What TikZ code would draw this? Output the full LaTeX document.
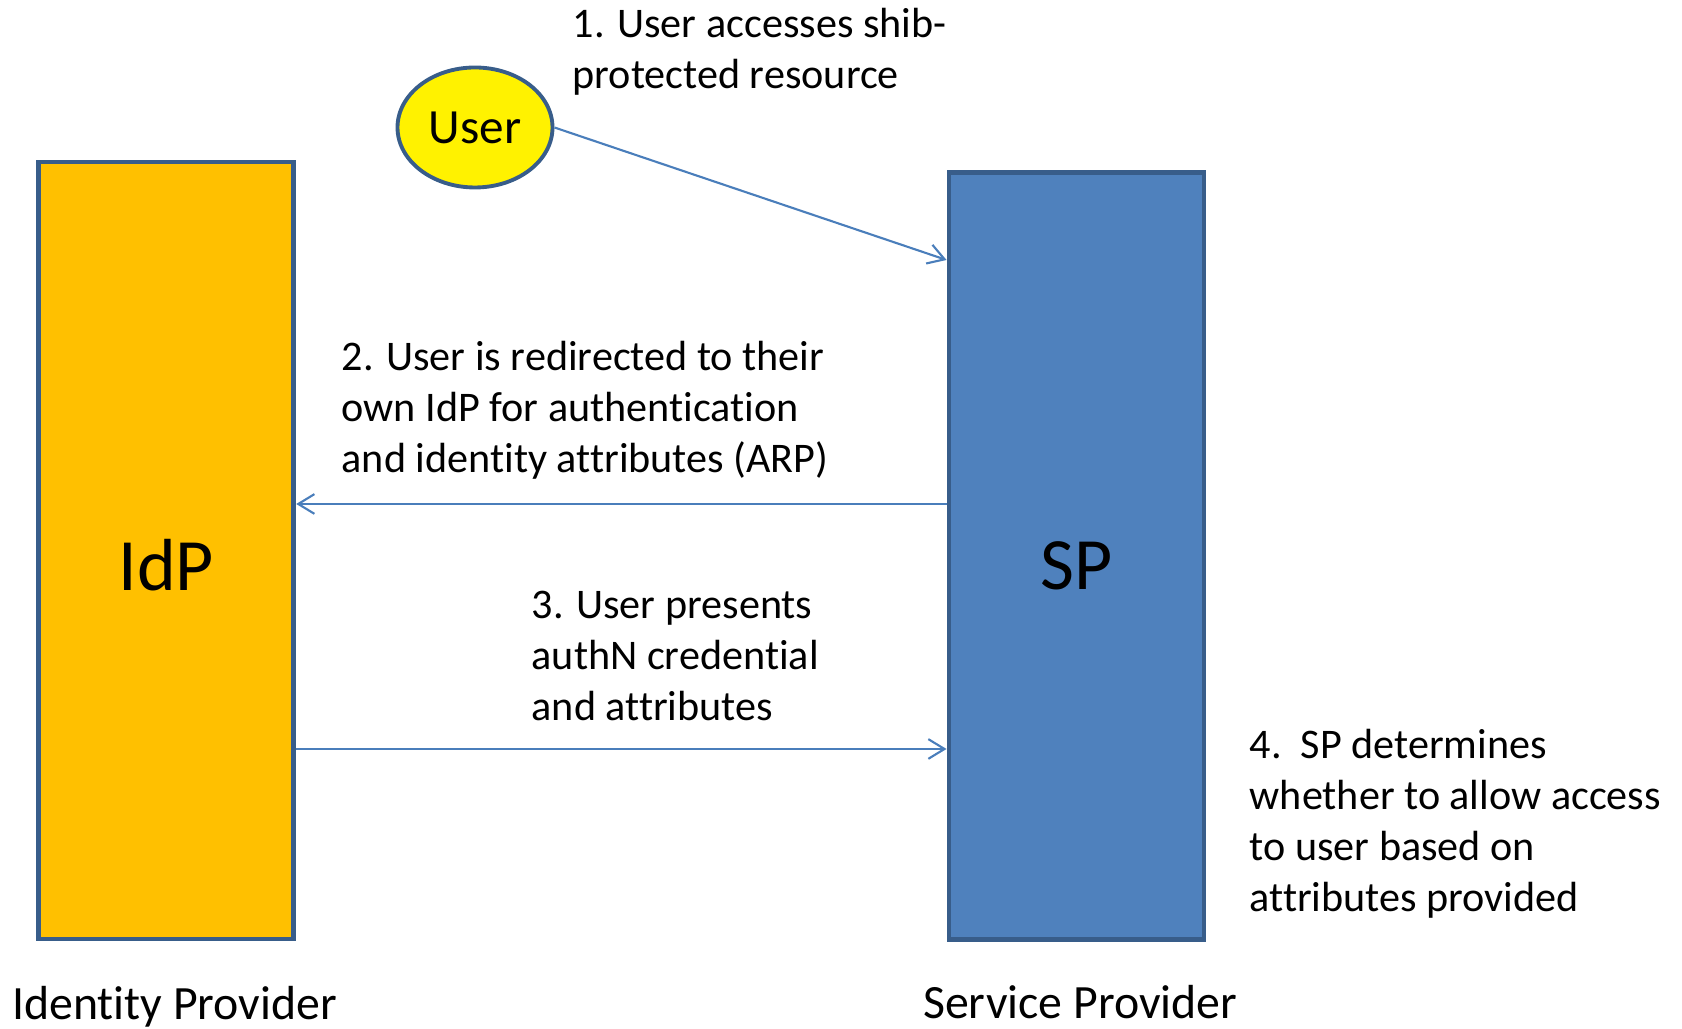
\documentclass[tikz,border=0pt]{standalone}
\usepackage{fontspec}
\setmainfont{Carlito}[RawFeature={-liga;-clig;-calt;-dlig}]
\usetikzlibrary{arrows.meta,shapes.geometric}
\definecolor{boxline}{HTML}{385D8A}
\definecolor{idpfill}{HTML}{FFC000}
\definecolor{spfill}{HTML}{4F81BD}
\definecolor{flow}{HTML}{4A7EBB}
\tikzstyle{provider} = [draw=boxline, line width=1.4pt, rectangle, inner sep=0pt, minimum width=2.55cm]
\tikzstyle{idpbox} = [provider, fill=idpfill, minimum height=7.77cm]
\tikzstyle{spbox} = [provider, fill=spfill, minimum height=7.67cm]
\tikzstyle{person} = [draw=boxline, line width=1.1pt, ellipse, fill=yellow, inner sep=0pt, minimum width=1.55cm, minimum height=1.2cm, font=\fontsize{14}{17}\selectfont]
\tikzstyle{big} = [font=\fontsize{21}{25}\selectfont]
\tikzstyle{caption} = [anchor=base west, inner sep=0pt, font=\fontsize{13.6}{16}\selectfont]
\tikzstyle{steptext} = [anchor=north west, inner sep=0pt, align=left, font=\fontsize{12}{14.5}\selectfont]
\tikzstyle{msg} = [draw=flow, line width=0.6pt, -{Straight Barb[length=4.6pt,width=5.6pt]}]

\begin{document}
\begin{tikzpicture}
  \useasboundingbox (0,0) rectangle (16.82,-10.29);
  \node[idpbox](idp) at (1.6625,-5.505){};
  \node[spbox](sp) at (10.765,-5.5575){};
  \node[big](idplabel) at ([yshift=-0.15cm]idp.center){IdP};
  \node[big](splabel) at ([yshift=-0.1cm]sp.center){SP};
  \node[person](user) at (4.75,-1.275){User};
  \node[caption](idpname) at (0.115,-10.20){Identity Provider};
  \node[caption](spname) at (9.225,-10.19){Service Provider};
  \node[steptext](step1) at (5.72,-0.08){1. User accesses shib-\\protected resource};
  \node[steptext](step2) at (3.41,-3.407){2. User is redirected to their\\own IdP for authentication\\and identity attributes (ARP)};
  \node[steptext](step3) at (5.31,-5.903){3. User presents\\authN credential\\and attributes};
  \node[steptext](step4) at (12.49,-7.284){4.\ \ SP determines\\whether to allow access\\to user based on\\attributes provided};
  \coordinate (lvl1) at (0,-2.60);
  \coordinate (lvl2) at (0,-5.04);
  \coordinate (lvl3) at (0,-7.49);
  \draw[msg](user.east)--(sp.west |- lvl1);
  \draw[msg](sp.west |- lvl2)--(idp.east |- lvl2);
  \draw[msg](idp.east |- lvl3)--(sp.west |- lvl3);
\end{tikzpicture}
\end{document}
